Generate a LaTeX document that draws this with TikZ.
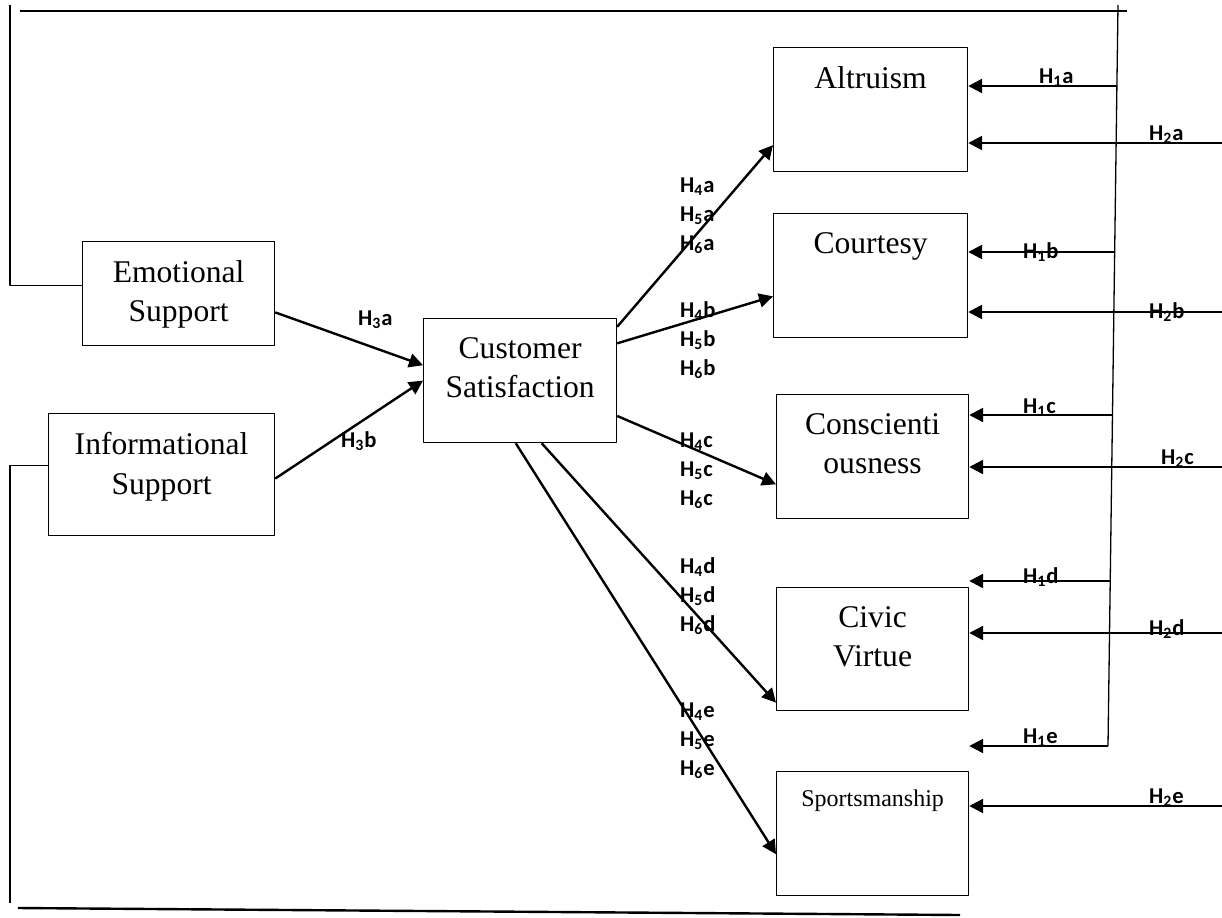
\documentclass[tikz,border=0pt]{standalone}
\usepackage{fontspec}
\setmainfont{Liberation Serif}
\newfontfamily\hypfont{Carlito}
\usetikzlibrary{arrows.meta}

\tikzset{
  box/.style 2 args={draw, line width=0.6pt, minimum width=#1, minimum height=#2,
    inner sep=0pt, anchor=north west},
  boxtext/.style={anchor=north, inner sep=0pt, yshift=-9pt, align=center,
    font=\fontsize{15.8}{19.8}\selectfont},
  hyp/.style={anchor=base west, inner sep=0pt,
    font=\hypfont\bfseries\fontsize{11.3}{13}\selectfont},
  frame/.style={line width=0.65pt},
}

\begin{document}
\begin{tikzpicture}[>={Triangle[length=7pt,width=7pt]},x=0.5pt,y=-0.5pt,line join=bevel]
  \useasboundingbox (0,0) rectangle (1222,917);
  \pgfsetlinewidth{1.2pt}
%%
  % Node: emo
  \node[box={96pt}{52pt}, label={[boxtext]north:Emotional\\Support}] (emo) at (82,241) {};
  % Node: info
  \node[box={113pt}{61pt}, label={[boxtext]north:Informational\\Support}] (info) at (48,413) {};
  % Node: cs
  \node[box={96.5pt}{62pt}, label={[boxtext]north:Customer\\Satisfaction}] (cs) at (423,318) {};
  % Node: alt
  \node[box={97pt}{62pt}, label={[boxtext]north:Altruism}] (alt) at (773,47) {};
  % Node: court
  \node[box={97pt}{62pt}, label={[boxtext]north:Courtesy}] (court) at (773,213) {};
  % Node: consc
  \node[box={96pt}{62pt}, label={[boxtext]north:Conscienti\\ousness}] (consc) at (776,394) {};
  % Node: civ
  \node[box={96pt}{61.5pt}, label={[boxtext]north:Civic\\Virtue}] (civ) at (776,587) {};
  % Node: sport
  \node[box={96pt}{62pt}, label={[boxtext,font=\fontsize{12}{14}\selectfont]north:Sportsmanship}] (sport) at (776,771) {};

  % Frame lines
  \coordinate (ftl) at (20,11);
  \coordinate (ftr) at (1127,11);
  \coordinate (spt) at (1118,5);
  \coordinate (spb) at (1108,746);
  \draw[frame] (ftl) -- (ftr);
  \draw[frame] (spt) -- (spb);
  \draw[frame] ([yshift=4pt]emo.west) -| (10,5);
  \draw[frame] ([yshift=4.5pt]info.west) -| (10,903);
  \draw (18,908) -- (960,915);

  % Edge: emo -> cs
  \draw[->] (emo.-11) -- (cs.171);
  % Edge: info -> cs
  \draw[->] (info.-2) -- (cs.180);
  % Edge: cs -> alt
  \draw[->] (cs.29) -- (alt.200);
  % Edge: cs -> court
  \draw[->] (cs.21) -- (court.192);
  % Edge: cs -> consc
  \draw[->] (cs.-20.5) -- (consc.196);
  % Edge: cs -> civ
  \draw[->] (cs.-71) -- (civ.209.6);
  % Edge: cs -> sport
  \draw[->] (cs.-94) -- (sport.192);

  % Edges from the right
  \foreach \b/\ya/\yb in {alt/86/143, court/252/312, consc/415/467, civ/581/633, sport/746/806} {
    \coordinate (s\b) at ({1118-10*(\ya-5)/741},\ya);
    \coordinate (r\b) at (1222,\yb);
    \draw[->] (s\b) -- (\b.east |- s\b);
    \draw[->] (r\b) -- (\b.east |- r\b);
  }

  % Labels
  \node[hyp] (h3a) at (357,325) {H\textsubscript{3}a};
  \node[hyp] (h3b) at (340,447) {H\textsubscript{3}b};
  \foreach \l/\y in {a/192, b/317, c/447, d/573, e/717}
    \foreach \d in {4,5,6}
      \node[hyp] (h\d\l) at (679,{\y+29.3*(\d-4)}) {H\textsubscript{\d}\l};
  \foreach \d/\l/\x/\y in {1/a/1038/83, 2/a/1148/140, 1/b/1022/258, 2/b/1148/318,
      1/c/1022/413, 2/c/1160/464, 1/d/1022/583, 2/d/1148/635, 1/e/1022/743, 2/e/1148/803}
    \node[hyp] (h\d\l) at (\x,\y) {H\textsubscript{\d}\l};
%
\end{tikzpicture}
\end{document}
